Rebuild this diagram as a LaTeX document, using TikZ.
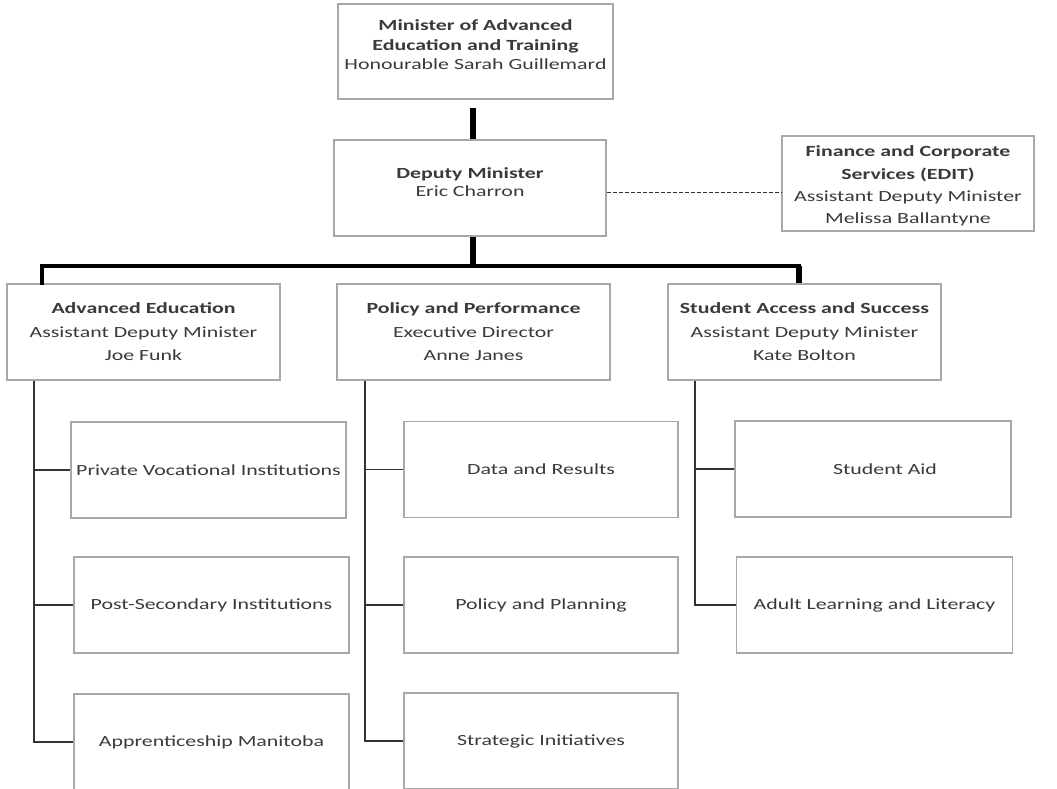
\documentclass[tikz,border=0pt]{standalone}
\usepackage{fontspec}
\setmainfont[FakeStretch=1.41]{Carlito}
\begin{document}
\begin{tikzpicture}[x=1pt,y=-1pt,
  box/.style={draw=boxgray,line width=1.3pt,fill=white,inner sep=0pt,align=center,text=txtgray,font=\fontsize{15.5}{23.5}\selectfont},
  txt/.style={inner sep=0pt,align=center,text=txtgray},
  conn/.style={draw=linegray,line width=1.5pt},
  thick/.style={draw=black,line width=3.5pt},
  heavy/.style={draw=black,line width=6pt},
  dashedline/.style={draw=linegray,line width=1pt,dash pattern=on 4pt off 2pt}]
\definecolor{boxgray}{HTML}{A8A8A8}
\definecolor{txtgray}{HTML}{3A3A3A}
\definecolor{linegray}{HTML}{333333}
\useasboundingbox[fill=white] (0,0) rectangle (1057,789);
% top
\node[box,minimum width=275pt,minimum height=95pt] (min) at (475.5,51.5) {};
\node[txt,font=\fontsize{15.5}{19.5}\selectfont] (mint) at (475.5,45) {\textbf{Minister of Advanced}\\\textbf{Education and Training}\\Honourable Sarah Guillemard};
\node[box,minimum width=272pt,minimum height=96pt] (dep) at (470,188) {};
\node[txt,font=\fontsize{15.5}{17.5}\selectfont] (dept) at (470,182) {\textbf{Deputy Minister}\\Eric Charron};
\node[box,minimum width=252pt,minimum height=95pt] (fin) at (908,183.5) {};
\node[txt,font=\fontsize{15.5}{22.3}\selectfont] (fint) at (908,186) {\textbf{Finance and Corporate}\\\textbf{Services (EDIT)}\\Assistant Deputy Minister\\Melissa Ballantyne};
% level 2
\node[box,minimum width=273pt,minimum height=96pt] (ae) at (143.5,332) {\textbf{Advanced Education}\\Assistant Deputy Minister\\Joe Funk};
\node[box,minimum width=273pt,minimum height=96pt] (pp) at (473.5,332) {\textbf{Policy and Performance}\\Executive Director\\Anne Janes};
\node[box,minimum width=273pt,minimum height=96pt] (sa) at (804.5,332) {\textbf{Student Access and Success}\\Assistant Deputy Minister\\Kate Bolton};
% level 3
\node[box,minimum width=275pt,minimum height=96pt] (ae1) at (208.5,470) {Private Vocational Institutions};
\node[box,minimum width=275pt,minimum height=96pt] (ae2) at (211.5,605) {Post-Secondary Institutions};
\node[box,minimum width=275pt,minimum height=96pt] (ae3) at (211.5,742) {Apprenticeship Manitoba};
\node[box,minimum width=274pt,minimum height=96pt] (pp1) at (541,469.5) {Data and Results};
\node[box,minimum width=274pt,minimum height=96pt] (pp2) at (541,605) {Policy and Planning};
\node[box,minimum width=274pt,minimum height=96pt] (pp3) at (541,741) {Strategic Initiatives};
\node[box,minimum width=276pt,minimum height=96pt] (sa1) at (873,469) {\hspace*{24pt}Student Aid};
\node[box,minimum width=276pt,minimum height=96pt] (sa2) at (874.5,605) {Adult Learning and Literacy};
% connectors
\coordinate (mtop) at (473,108);
\draw[heavy] (mtop) -- (mtop |- dep.north);
\coordinate (busc) at (473,266);
\coordinate (busl) at (42,266);
\coordinate (busr) at (799,266);
\draw[heavy] (dep.south -| busc) -- (busc);
\draw[thick,line cap=rect] (busl |- ae.north) -- (busl) -- (busr);
\draw[heavy] (busr) -- (busr |- sa.north);
\draw[dashedline] (dep.east |- 0,192) -- (fin.west |- 0,192);
\coordinate (aev) at (34,0);
\coordinate (ppv) at (365,0);
\coordinate (sav) at (695,0);
\draw[conn] (ae.south -| aev) |- (ae3.west);
\draw[conn] (aev |- ae1.west) -- (ae1.west);
\draw[conn] (aev |- ae2.west) -- (ae2.west);
\draw[conn] (pp.south -| ppv) |- (pp3.west);
\draw[conn] (ppv |- pp1.west) -- (pp1.west);
\draw[conn] (ppv |- pp2.west) -- (pp2.west);
\draw[conn] (sa.south -| sav) |- (sa2.west);
\draw[conn] (sav |- sa1.west) -- (sa1.west);
\end{tikzpicture}
\end{document}
